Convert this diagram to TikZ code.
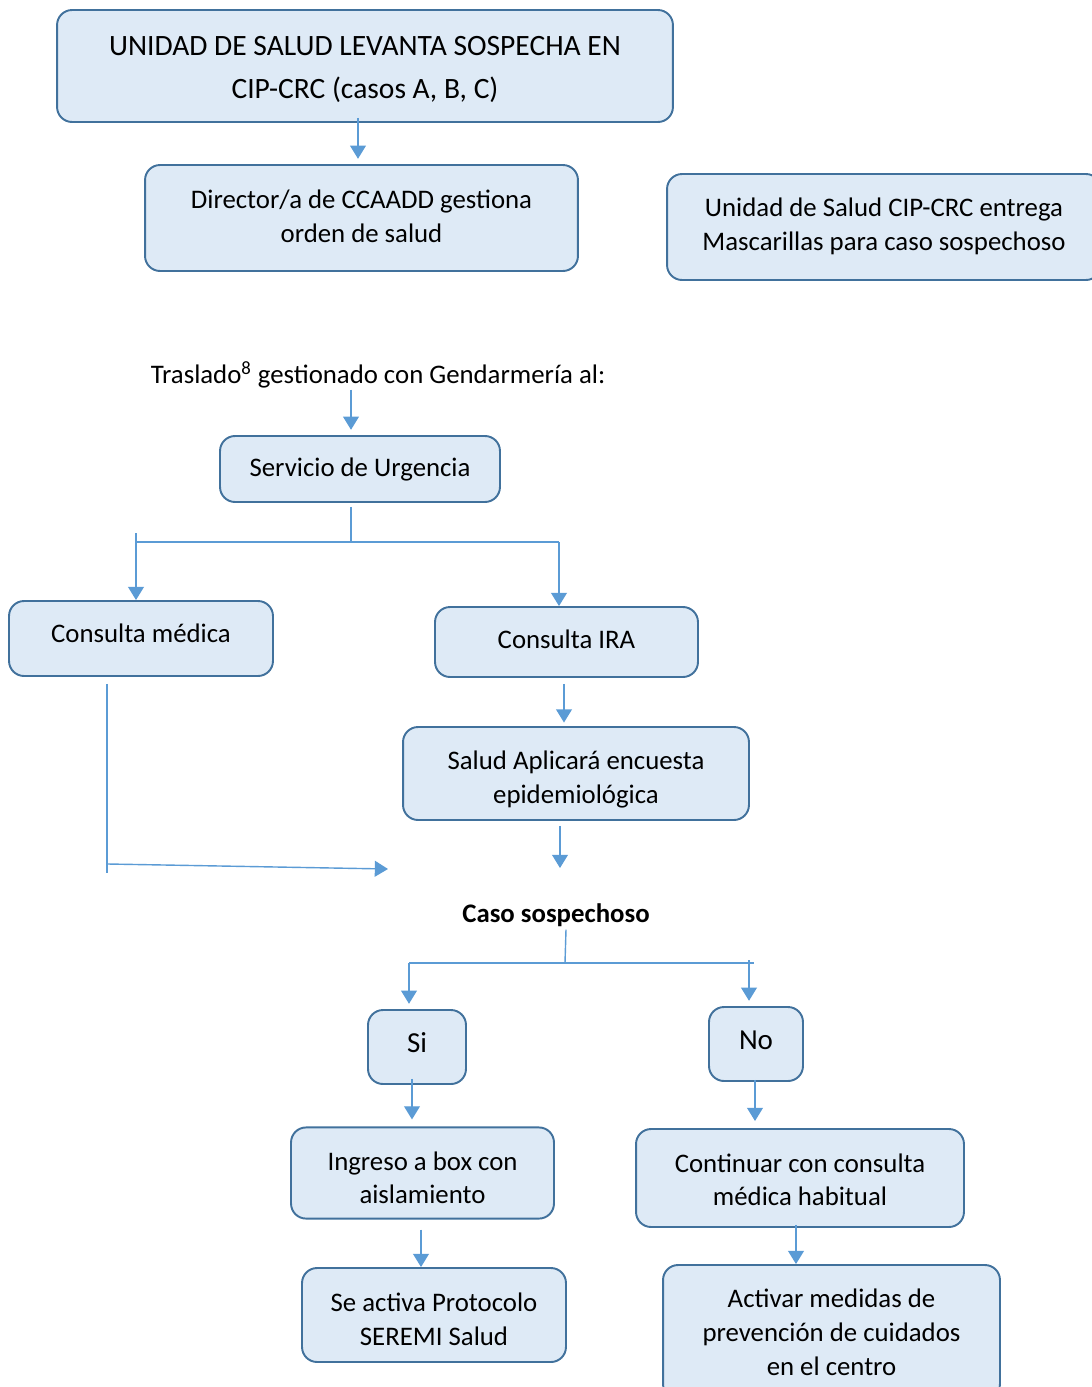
\documentclass[tikz,border=0pt]{standalone}
\usepackage{fontspec}
\setmainfont{Carlito}
\usepackage{tikz}
\usetikzlibrary{arrows.meta}
\definecolor{boxfill}{HTML}{DEEAF6}
\definecolor{boxline}{HTML}{41719C}
\definecolor{arrline}{HTML}{5B9BD5}

\begin{document}
\begin{tikzpicture}[
  x=0.02cm, y=-0.02cm,
  box/.style={rectangle, draw=boxline, fill=boxfill, line width=1.1pt,
              rounded corners=0.3cm, align=center,
              font=\fontsize{15.25}{19.3}\selectfont},
  bigbox/.style={box, font=\fontsize{16.8}{24.4}\selectfont},
  yesno/.style={box, font=\fontsize{16.5}{20}\selectfont},
  lift/.style={text height=#1, text depth=5pt},
  line/.style={draw=arrline, line width=0.8pt},
  arr/.style={line, -{Triangle[length=7.5pt, width=9pt]}},
]
  \useasboundingbox (0,0) rectangle (1092,1387);
  \clip (0,0) rectangle (1092,1387);

  % cajas
  \node[bigbox, lift=42.4pt, minimum width=12.32cm, minimum height=2.24cm] (alerta) at (365,66)
    {UNIDAD DE SALUD LEVANTA SOSPECHA EN\\CIP-CRC (casos A, B, C)};
  \node[box, lift=32.4pt, minimum width=8.66cm, minimum height=2.12cm] (director) at (361.5,218)
    {Director/a de CCAADD gestiona\\orden de salud};
  \node[box, lift=31.8pt, minimum width=8.68cm, minimum height=2.12cm] (mascarillas) at (884,227)
    {Unidad de Salud CIP-CRC entrega\\Mascarillas para caso sospechoso};
  \node[font=\fontsize{15.25}{19.3}\selectfont] (traslado) at (378,375)
    {Traslado\textsuperscript{8} gestionado con Gendarmería al:};
  \node[box, minimum width=5.6cm, minimum height=1.32cm] (urgencia) at (360,469)
    {Servicio de Urgencia};
  \node[box, lift=9.6pt, minimum width=5.28cm, minimum height=1.5cm] (medica) at (141,638.5)
    {Consulta médica};
  \node[box, lift=12.4pt, minimum width=5.26cm, minimum height=1.4cm] (ira) at (566.5,642)
    {Consulta IRA};
  \node[box, lift=39.2pt, minimum width=6.92cm, minimum height=1.86cm] (encuesta) at (576,773.5)
    {Salud Aplicará encuesta\\epidemiológica};
  \node[font=\fontsize{15.25}{19.3}\selectfont\bfseries] (caso) at (556,915)
    {Caso sospechoso};
  \node[yesno, lift=11.6pt, minimum width=1.96cm, minimum height=1.48cm] (si) at (417,1047)
    {Si};
  \node[yesno, lift=11.6pt, minimum width=1.88cm, minimum height=1.48cm] (no) at (756,1044)
    {No};
  \node[box, lift=40.2pt, minimum width=5.26cm, minimum height=1.8cm] (ingreso) at (422.5,1173)
    {Ingreso a box con\\aislamiento};
  \node[box, lift=36.8pt, minimum width=6.56cm, minimum height=1.96cm] (continuar) at (800,1178)
    {Continuar con consulta\\médica habitual};
  \node[box, lift=39.7pt, minimum width=5.28cm, minimum height=1.88cm] (protocolo) at (434,1315)
    {Se activa Protocolo\\SEREMI Salud};
  \node[box, minimum width=6.74cm, minimum height=2.68cm] (prevencion) at (831.5,1332)
    {Activar medidas de\\prevención de cuidados\\en el centro};

  % puntos de union
  \coordinate (xalerta) at (358,0);
  \coordinate (xurg) at (351,0);
  \coordinate (xira) at (564,0);
  \coordinate (xsi) at (412,0);
  \coordinate (xno) at (755,0);
  \coordinate (xing) at (421,0);
  \coordinate (xcont) at (796,0);
  \coordinate (urgfork) at (351,542);
  \coordinate (forkL) at (136,542);
  \coordinate (forkR) at (559,542);
  \coordinate (medL) at (107,873);
  \coordinate (medin) at (388,869);
  \coordinate (encout) at (560,868);
  \coordinate (casofork) at (565,963);
  \coordinate (siL) at (409,963);
  \coordinate (noR) at (749,963);

  % conectores
  \draw[arr, shorten >=3pt] (alerta.south -| xalerta) ++(0,-5) -- (director.north -| xalerta);
  \draw[arr, shorten >=3pt] (traslado.south -| xurg) ++(0,-5) -- (urgencia.north -| xurg);
  \draw[line] (urgencia.south -| xurg) ++(0,4) -- (urgfork);
  \draw[line] (forkL) -- (forkR);
  \draw[arr] (forkL) ++(0,-9) -- (forkL |- medica.north);
  \draw[arr] (forkR) -- (forkR |- ira.north);
  \draw[arr, shorten >=2pt] (ira.south -| xira) ++(0,6) -- (encuesta.north -| xira);
  \draw[arr] (encout |- encuesta.south) ++(0,5) -- (encout);
  \draw[line] (medL |- medica.south) ++(0,7) -- (medL);
  \draw[arr] (medL) ++(1,-9) -- (medin);
  \draw[line] (casofork |- caso.south) ++(1,-3) -- (casofork);
  \draw[line] (siL) -- ++(345,0);
  \draw[arr, shorten >=3pt] (siL) -- (siL |- si.north);
  \draw[arr, shorten >=3pt] (noR) ++(0,-3) -- (noR |- no.north);
  \draw[arr, shorten >=4pt] (si.south -| xsi) ++(0,-6) -- (ingreso.north -| xsi);
  \draw[arr, shorten >=4pt] (no.south -| xno) ++(0,-2) -- (continuar.north -| xno);
  \draw[arr] (ingreso.south -| xing) ++(0,10) -- (protocolo.north -| xing);
  \draw[arr] (continuar.south -| xcont) ++(0,-3) -- (prevencion.north -| xcont);
\end{tikzpicture}
\end{document}
